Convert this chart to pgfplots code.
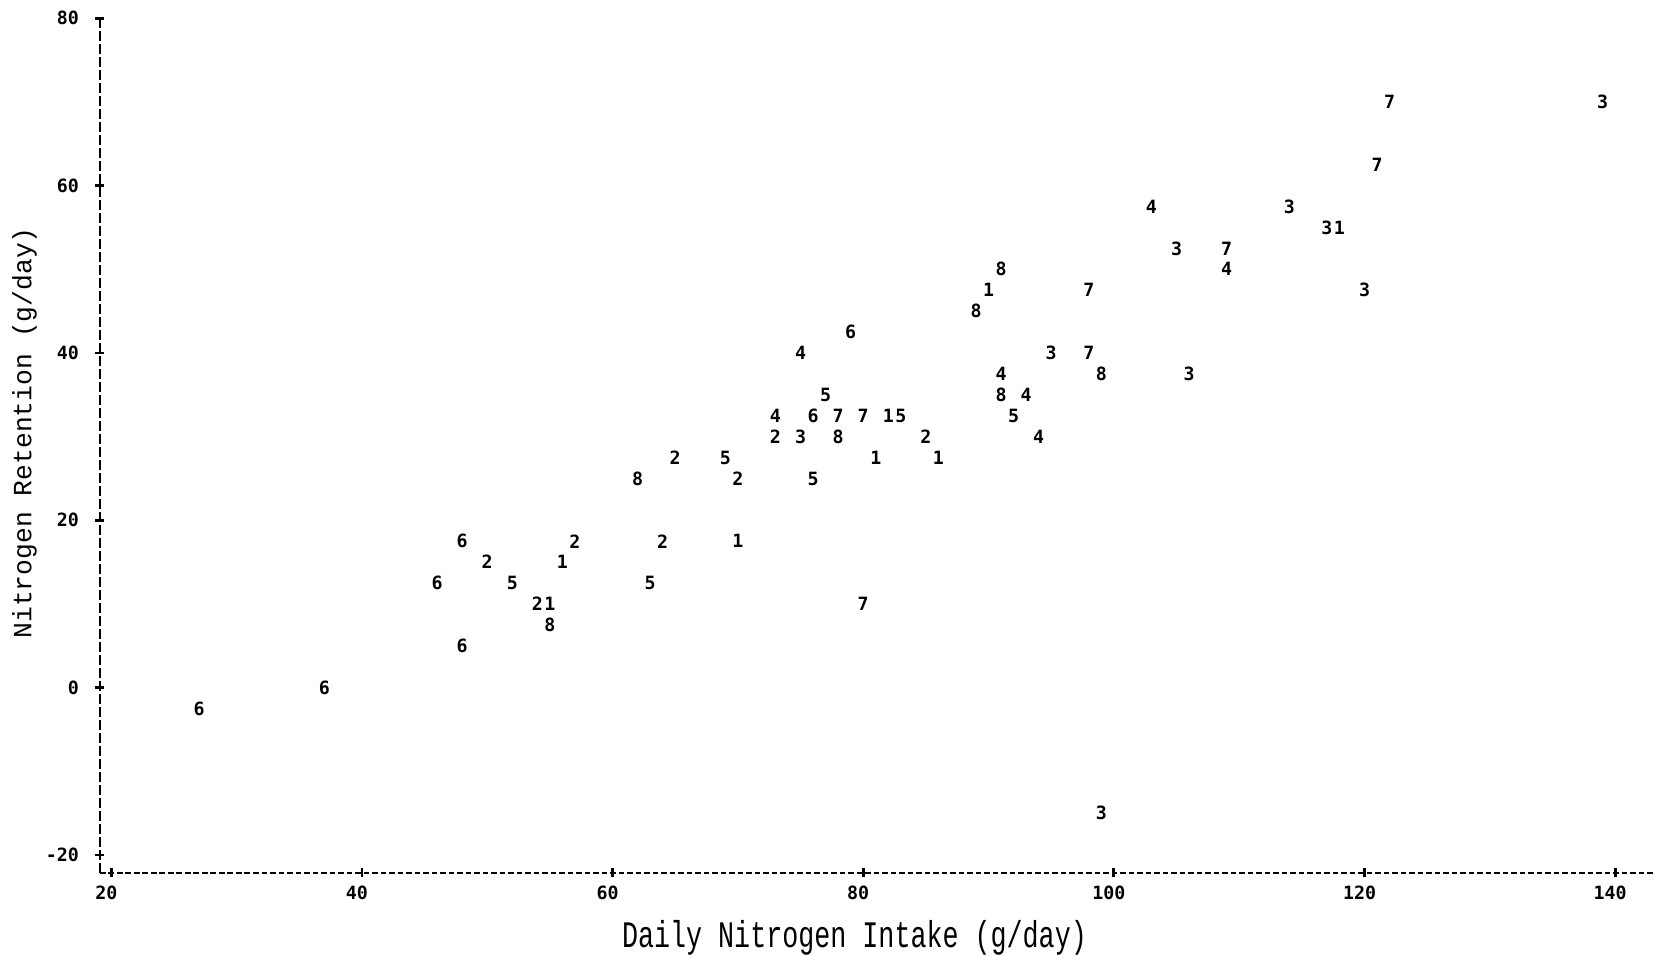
\documentclass[border=0pt]{standalone}
\usepackage{fontspec}
\usepackage{graphicx}
\usepackage{pgfplots}
\usepackage{pgfplotstable}
\pgfplotsset{compat=1.18}
\newfontfamily\dotfont{DejaVu Sans Mono}
\newfontfamily\labelfont{Liberation Mono}

\pgfplotstableread{
x y lab
27 -2.5 6
37 0 6
46 12.5 6
48 17.5 6
48 5 6
50 15 2
52 12.5 5
54 10 2
55 10 1
55 7.5 8
56 15 1
57 17.5 2
62 25 8
63 12.5 5
64 17.5 2
65 27.5 2
69 27.5 5
70 25 2
70 17.5 1
73 32.5 4
73 30 2
75 30 3
75 40 4
76 32.5 6
76 25 5
77 35 5
78 32.5 7
78 30 8
79 42.5 6
80 32.5 7
80 10 7
81 27.5 1
82 32.5 1
83 32.5 5
85 30 2
86 27.5 1
89 45 8
90 47.5 1
91 50 8
91 37.5 4
91 35 8
92 32.5 5
93 35 4
94 30 4
95 40 3
98 47.5 7
98 40 7
99 37.5 8
99 -15 3
103 57.5 4
105 52.5 3
106 37.5 3
109 52.5 7
109 50 4
114 57.5 3
117 55 3
118 55 1
120 47.5 3
121 62.5 7
122 70 7
139 70 3
}\datatable

\begin{document}
\begin{tikzpicture}
\begin{axis}[
  scale only axis,
  width=155.4mm, height=85.47mm,
  xmin=19.1, xmax=143.1,
  ymin=-22.15, ymax=80,
  clip=false,
  axis x line*=bottom,
  axis y line*=left,
  axis line style={-},
  every outer x axis line/.append style={-},
  every outer y axis line/.append style={-},
  x axis line style={-, line width=0.8pt, dash pattern=on 0.57mm off 0.28mm},
  y axis line style={-, line width=0.8pt, dash pattern=on 0.95mm off 0.35mm},
  xtick={20,40,...,140},
  ytick={-20,0,20,40,60,80},
  xticklabels={20,40,60,80,100,120,140},
  yticklabels={-20,0,20,40,60,80},
  tick align=center,
  major tick length=0.9mm,
  tick style={line width=0.8pt, black, solid},
  ticklabel style={font=\fontsize{5.2pt}{6pt}\dotfont\bfseries, inner sep=0pt},
  yticklabel style={anchor=east, xshift=-1.6mm},
  xticklabel style={anchor=north, yshift=-0.75mm, xshift=-0.5mm},
  xlabel={\scalebox{1}[1.4]{Daily Nitrogen Intake (g/day)}},
  ylabel={Nitrogen Retention (g/day)},
  xlabel style={at={(rel axis cs:0.4855,-0.076)}, anchor=center, font=\fontsize{7.6pt}{9pt}\labelfont, inner sep=0pt},
  ylabel style={at={(rel axis cs:-0.0486,0.515)}, anchor=center, font=\fontsize{7.5pt}{9pt}\labelfont, inner sep=0pt},
]
\addplot[only marks, mark=*, mark size=0pt, mark options={draw=none, fill=none},
  point meta=explicit symbolic,
  nodes near coords,
  nodes near coords align={center},
  every node near coord/.append style={font=\fontsize{5.2pt}{6pt}\dotfont\bfseries, inner sep=0pt, anchor=center, text=black}]
  table[x=x, y=y, meta=lab] {\datatable};
\coordinate (ll) at (rel axis cs:0,0);
\coordinate (ur) at (rel axis cs:1,1);
\end{axis}
\pgfresetboundingbox
\path[use as bounding box] ([shift={(-10mm,-8.3mm)}]ll) rectangle ([shift={(0mm,1.83mm)}]ur);
\end{tikzpicture}
\end{document}
